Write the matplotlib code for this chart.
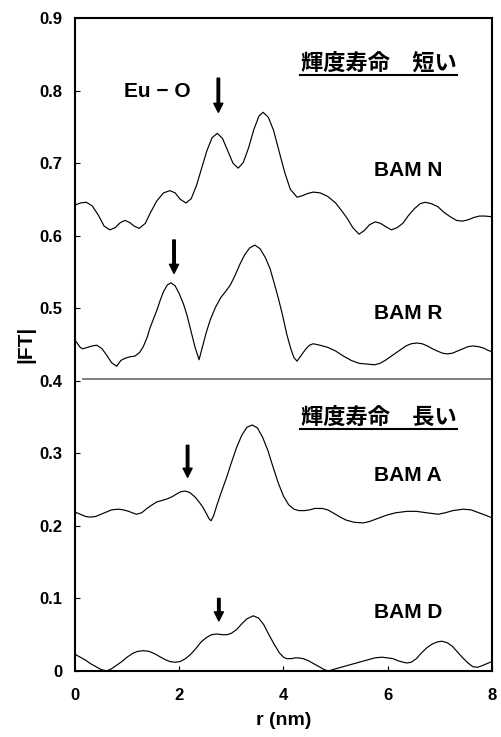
import matplotlib
matplotlib.use("Agg")
import matplotlib.pyplot as plt

# ---------------- data ----------------
r_n = [0.0, 0.1, 0.22, 0.33, 0.45, 0.56, 0.67, 0.77, 0.87, 0.96, 1.05, 1.14, 1.23, 1.35,
       1.45, 1.57, 1.7, 1.82, 1.92, 2.02, 2.13, 2.23, 2.33, 2.43, 2.53, 2.63, 2.73, 2.83,
       2.93, 3.03, 3.13, 3.23, 3.33, 3.43, 3.53, 3.61, 3.71, 3.81, 3.92, 4.02, 4.13, 4.26,
       4.36, 4.46, 4.57, 4.7, 4.85, 5.0, 5.12, 5.22, 5.33, 5.45, 5.55, 5.65, 5.76, 5.86,
       5.97, 6.07, 6.18, 6.29, 6.4, 6.51, 6.62, 6.72, 6.84, 6.96, 7.08, 7.2, 7.32, 7.43,
       7.55, 7.65, 7.76, 7.87, 8.0]
ft_n = [0.642, 0.645, 0.646, 0.641, 0.628, 0.613, 0.608, 0.611, 0.618, 0.621, 0.618, 0.613,
        0.610, 0.617, 0.632, 0.648, 0.659, 0.662, 0.659, 0.650, 0.645, 0.651, 0.669, 0.693,
        0.717, 0.735, 0.741, 0.734, 0.717, 0.700, 0.693, 0.701, 0.721, 0.746, 0.765, 0.770,
        0.763, 0.745, 0.715, 0.688, 0.664, 0.653, 0.655, 0.658, 0.660, 0.659, 0.654, 0.645,
        0.634, 0.624, 0.611, 0.602, 0.607, 0.615, 0.619, 0.617, 0.612, 0.608, 0.611, 0.617,
        0.628, 0.637, 0.644, 0.646, 0.644, 0.640, 0.632, 0.626, 0.621, 0.620, 0.622, 0.625,
        0.627, 0.627, 0.626]

r_r = [0.0, 0.05, 0.1, 0.15, 0.24, 0.33, 0.42, 0.52, 0.61, 0.7, 0.8, 0.88, 0.96, 1.05,
       1.15, 1.24, 1.31, 1.38, 1.44, 1.51, 1.57, 1.64, 1.7, 1.77, 1.84, 1.92, 2.0, 2.08,
       2.15, 2.22, 2.3, 2.38, 2.45, 2.52, 2.6, 2.7, 2.8, 2.9, 2.98, 3.07, 3.16, 3.25, 3.35,
       3.45, 3.55, 3.65, 3.74, 3.82, 3.9, 3.98, 4.06, 4.14, 4.2, 4.26, 4.34, 4.42, 4.5,
       4.57, 4.7, 4.85, 5.0, 5.15, 5.3, 5.45, 5.6, 5.75, 5.85, 5.95, 6.05, 6.15, 6.25,
       6.35, 6.45, 6.56, 6.66, 6.76, 6.86, 6.95, 7.05, 7.14, 7.24, 7.34, 7.44, 7.54, 7.64,
       7.74, 7.84, 7.92, 8.0]
ft_r = [0.456, 0.451, 0.446, 0.444, 0.446, 0.448, 0.449, 0.444, 0.435, 0.425, 0.420, 0.428,
        0.431, 0.433, 0.434, 0.439, 0.447, 0.459, 0.473, 0.486, 0.497, 0.512, 0.523, 0.532,
        0.535, 0.531, 0.520, 0.506, 0.490, 0.470, 0.447, 0.429, 0.448, 0.467, 0.485, 0.502,
        0.515, 0.524, 0.532, 0.545, 0.560, 0.573, 0.583, 0.587, 0.582, 0.570, 0.555, 0.535,
        0.514, 0.491, 0.465, 0.444, 0.432, 0.427, 0.435, 0.443, 0.449, 0.451, 0.449, 0.446,
        0.441, 0.434, 0.428, 0.424, 0.423, 0.422, 0.424, 0.428, 0.433, 0.438, 0.443, 0.448,
        0.451, 0.452, 0.451, 0.448, 0.444, 0.441, 0.438, 0.437, 0.438, 0.441, 0.444, 0.447,
        0.448, 0.447, 0.445, 0.442, 0.440]

r_a = [0.0, 0.1, 0.2, 0.29, 0.4, 0.5, 0.6, 0.7, 0.83, 0.93, 1.03, 1.1, 1.18, 1.28, 1.38,
       1.48, 1.57, 1.67, 1.76, 1.86, 1.95, 2.03, 2.11, 2.2, 2.3, 2.38, 2.45, 2.52, 2.57,
       2.61, 2.66, 2.72, 2.8, 2.9, 3.0, 3.1, 3.2, 3.3, 3.4, 3.5, 3.6, 3.7, 3.8, 3.9, 4.0,
       4.1, 4.2, 4.3, 4.4, 4.5, 4.6, 4.74, 4.85, 4.95, 5.09, 5.2, 5.35, 5.53, 5.65, 5.8,
       5.99, 6.15, 6.37, 6.55, 6.75, 6.97, 7.1, 7.25, 7.45, 7.6, 7.75, 7.9, 8.0]
ft_a = [0.219, 0.216, 0.213, 0.212, 0.213, 0.216, 0.219, 0.222, 0.223, 0.222, 0.220, 0.218,
        0.216, 0.218, 0.224, 0.229, 0.233, 0.235, 0.237, 0.240, 0.244, 0.247, 0.248, 0.246,
        0.240, 0.233, 0.226, 0.217, 0.210, 0.207, 0.214, 0.228, 0.245, 0.265, 0.287, 0.308,
        0.325, 0.336, 0.339, 0.335, 0.322, 0.304, 0.281, 0.259, 0.241, 0.229, 0.223, 0.221,
        0.221, 0.222, 0.224, 0.224, 0.222, 0.218, 0.212, 0.208, 0.205, 0.204, 0.206, 0.210,
        0.215, 0.218, 0.220, 0.220, 0.218, 0.216, 0.218, 0.221, 0.223, 0.222, 0.218, 0.214,
        0.211]

r_d = [0.0, 0.1, 0.2, 0.3, 0.4, 0.5, 0.61, 0.7, 0.8, 0.9, 1.0, 1.1, 1.2, 1.31, 1.42, 1.52,
       1.62, 1.72, 1.82, 1.92, 2.02, 2.12, 2.22, 2.32, 2.42, 2.52, 2.62, 2.72, 2.82, 2.92,
       3.0, 3.1, 3.2, 3.3, 3.42, 3.52, 3.62, 3.72, 3.82, 3.92, 4.0, 4.06, 4.15, 4.22, 4.29,
       4.38, 4.48, 4.58, 4.68, 4.78, 4.86, 5.0, 5.2, 5.4, 5.6, 5.75, 5.89, 6.0, 6.1, 6.2,
       6.3, 6.37, 6.45, 6.55, 6.65, 6.75, 6.85, 6.95, 7.04, 7.14, 7.24, 7.34, 7.44, 7.54,
       7.63, 7.72, 7.8, 7.9, 8.0]
ft_d = [0.023, 0.019, 0.015, 0.010, 0.006, 0.002, 0.000, 0.003, 0.008, 0.013, 0.019, 0.024,
        0.027, 0.028, 0.027, 0.024, 0.020, 0.016, 0.013, 0.012, 0.013, 0.017, 0.023, 0.031,
        0.040, 0.046, 0.050, 0.051, 0.050, 0.050, 0.052, 0.057, 0.065, 0.072, 0.076, 0.073,
        0.064, 0.050, 0.037, 0.025, 0.019, 0.017, 0.017, 0.018, 0.018, 0.017, 0.014, 0.010,
        0.006, 0.002, 0.000, 0.003, 0.007, 0.011, 0.015, 0.018, 0.019, 0.018, 0.017, 0.014,
        0.012, 0.011, 0.012, 0.017, 0.025, 0.032, 0.037, 0.040, 0.041, 0.039, 0.034, 0.026,
        0.018, 0.011, 0.006, 0.005, 0.007, 0.010, 0.013]

series_labels = ["BAM N", "BAM R", "BAM A", "BAM D"]
label_y = [0.690, 0.493, 0.269, 0.080]
label_x = 6.39

arrow_x = [2.75, 1.90, 2.16, 2.76]
arrow_tail = [0.817, 0.594, 0.311, 0.100]
arrow_tip = [0.770, 0.548, 0.267, 0.069]

divider_y = 0.402
group_titles = ["輝度寿命\u3000短い", "輝度寿命\u3000長い"]
group_title_y = [0.838, 0.350]

xticks = [0, 2, 4, 6, 8]
yticks = [0, 0.1, 0.2, 0.3, 0.4, 0.5, 0.6, 0.7, 0.8, 0.9]
ytick_labels = ["0", "0.1", "0.2", "0.3", "0.4", "0.5", "0.6", "0.7", "0.8", "0.9"]

# ---------------- figure ----------------
plt.rcParams['font.family'] = ['Liberation Sans', 'DejaVu Sans']
fig = plt.figure(figsize=(5.01, 7.37), dpi=100)
ax = fig.add_axes([0.1497, 0.0896, 0.8323, 0.886])

for xs, ys in [(r_n, ft_n), (r_r, ft_r), (r_a, ft_a), (r_d, ft_d)]:
    ax.plot(xs, ys, color='black', lw=0.85, solid_joinstyle='round')

ax.plot([0.15, 8.0], [divider_y, divider_y], color='#7f7f7f', lw=1.4)

ax.set_xlim(0, 8)
ax.set_ylim(0, 0.9)
ax.set_xticks(xticks)
ax.set_xticklabels([str(v) for v in xticks])
ax.set_yticks(yticks)
ax.set_yticklabels(ytick_labels)
ax.tick_params(axis='both', direction='in', length=3.5, width=0.8, labelsize=12)
ax.tick_params(axis='x', pad=12)
ax.tick_params(axis='y', pad=9)
for lab in ax.get_xticklabels() + ax.get_yticklabels():
    lab.set_fontweight('bold')
for s in ax.spines.values():
    s.set_linewidth(1.5)

ax.set_xlabel("r (nm)", fontsize=14, fontweight='bold', labelpad=7)
ax.set_ylabel("|FT|", fontsize=15, fontweight='bold', labelpad=3)

for name, yy in zip(series_labels, label_y):
    ax.text(label_x, yy, name, ha='center', va='center', fontsize=15, fontweight='bold')

ax.text(1.58, 0.798, "Eu \u2212 O", ha='center', va='center', fontsize=15, fontweight='bold')

for x0, y0, y1 in zip(arrow_x, arrow_tail, arrow_tip):
    ax.annotate('', xy=(x0, y1), xytext=(x0, y0),
                arrowprops=dict(facecolor='black', edgecolor='black', width=1.8,
                                headwidth=6.5, headlength=6.5, shrink=0))

for t, yy in zip(group_titles, group_title_y):
    ax.text(5.83, yy, t, ha='center', va='center', fontsize=16, fontweight='bold',
            family=['Noto Sans CJK JP', 'DejaVu Sans'])
    ax.plot([4.32, 7.33], [yy - 0.017, yy - 0.017], color='black', lw=1.5)

fig.savefig("out.png", dpi=100)
